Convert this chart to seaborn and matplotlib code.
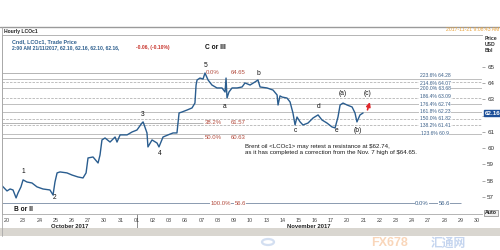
import numpy as np
import pandas as pd
import matplotlib
matplotlib.use("Agg")
import matplotlib.pyplot as plt
import seaborn as sns
from matplotlib.transforms import blended_transform_factory
from matplotlib.patches import Rectangle, Circle
from matplotlib.lines import Line2D

sns.set_theme(style="white")
plt.rcParams['font.family'] = ['Liberation Sans', 'DejaVu Sans', 'Noto Sans CJK SC']

# ---------------- data (trading-day index, price USD/bbl) ----------------
t_days = [-0.30, 0.00, 0.19, 0.37, 0.56, 0.68, 0.86, 0.99, 1.23, 1.54, 1.85, 2.22, 2.65, 2.84,
          2.96, 3.09, 3.27, 3.70, 4.01, 4.38, 4.69, 4.88, 5.00, 5.31, 5.62, 5.74, 5.86, 6.05,
          6.36, 6.67, 6.79, 6.98, 7.41, 7.72, 8.02, 8.33, 8.40, 8.64, 8.70, 8.95, 9.26, 9.38,
          9.63, 9.94, 10.25, 10.49, 10.62, 10.80, 11.11, 11.42, 11.60, 11.67, 11.73, 11.91,
          12.10, 12.22, 12.41, 12.65, 12.96, 13.27, 13.46, 13.52, 13.58, 13.70, 13.89, 14.20,
          14.51, 14.69, 15.00, 15.31, 15.49, 15.62, 16.05, 16.42, 16.67, 16.73, 16.85, 16.98,
          17.28, 17.47, 17.65, 17.78, 17.90, 18.09, 18.27, 18.58, 18.89, 19.20, 19.44, 19.75,
          20.06, 20.25, 20.43, 20.56, 20.74, 20.99, 21.30, 21.48, 21.60, 21.79, 21.98]
price = [57.68, 57.37, 57.49, 57.43, 56.94, 57.25, 57.62, 58.05, 57.92, 57.86, 57.62, 57.49,
         57.43, 57.12, 57.92, 58.48, 58.54, 58.48, 58.35, 58.23, 58.17, 58.48, 59.40, 59.46,
         59.09, 59.58, 60.51, 60.63, 60.38, 60.69, 60.38, 60.82, 60.82, 61.00, 61.12, 61.55,
         61.62, 60.94, 60.08, 60.51, 60.32, 60.08, 60.69, 60.82, 60.94, 60.94, 62.17, 62.23,
         62.35, 62.48, 62.78, 63.89, 64.20, 64.32, 64.26, 64.63, 64.20, 63.89, 63.71, 63.71,
         63.46, 64.32, 63.09, 63.46, 63.71, 63.71, 63.77, 64.02, 63.89, 64.08, 64.20, 63.77,
         63.71, 63.58, 63.28, 62.66, 63.22, 63.15, 63.09, 62.85, 62.17, 61.43, 61.92, 61.62,
         61.43, 61.55, 61.86, 62.05, 61.74, 61.55, 61.31, 61.25, 61.92, 62.66, 62.78, 62.66,
         62.54, 62.17, 61.62, 62.05, 62.17]

date_labels = ['20', '23', '24', '25', '26', '27', '30', '31', '01', '02', '03', '06', '07',
               '08', '09', '10', '13', '14', '15', '16', '17', '20', '21', '22', '23', '24',
               '27', '28', '29', '30']
month_labels = ['October 2017', 'November 2017']
price_ticks = [57, 58, 59, 60, 61, 62, 63, 64, 65]

right_fib_pct = ['223.6%', '214.6%', '200.0%', '186.4%', '176.4%', '161.8%', '150.0%',
                 '138.2%', '123.6%']
right_fib_val = [64.28, 64.07, 63.68, 63.09, 62.74, 62.23, 61.82, 61.41, 60.9]
left_fib_pct = ['0.0%', '38.2%', '50.0%']
left_fib_val = [64.65, 61.57, 60.63]
base_fib_val = 56.6

wave_labels = ['1', '2', '3', '4', '5', 'a', 'b', 'c', 'd', 'e', '(a)', '(b)', '(c)',
               'C or III', 'B or II']
wave_t = [0.99, 2.96, 8.40, 9.44, 12.28, 13.40, 15.49, 17.78, 19.26, 20.37, 20.74, 21.67,
          22.28, 12.84, 0.99]
wave_p = [58.54, 56.94, 62.05, 59.65, 65.12, 62.54, 64.57, 61.06, 62.54, 61.06, 63.34, 61.06,
          63.34, 66.17, 56.20]

last_price = 62.16

df = pd.DataFrame({'t': t_days, 'price': price})

# ---------------- figure ----------------
W, H = 500, 250
fig = plt.figure(figsize=(5, 2.5), dpi=100)
fig.patch.set_facecolor('white')

def fx(px):
    return px / W

def fy(py):
    return 1 - py / H

ax_l, ax_r, ax_t, ax_b = 2, 482, 35, 214
ax = fig.add_axes([fx(ax_l), fy(ax_b), (ax_r - ax_l) / W, (ax_b - ax_t) / H])
ax.set_facecolor('white')
ax.set_xlim(-0.31, 29.32)
ax.set_ylim(55.95, 66.97)

blue_txt = '#3a5f88'
red_txt = '#b24a3c'
grid_c = '#b4b4b4'

# right fibonacci lines (labels nudged apart where levels are very close)
label_nudge = [2.2, -1.0, 0, 0.8, -0.8, 0, 0, 0, 0]
for i, (pc, v) in enumerate(zip(right_fib_pct, right_fib_val)):
    ls = (0, (3, 1.5)) if i in (1, 3, 6, 7) else '-'
    ax.hlines(v, -0.31, 29.32, color=grid_c, lw=0.6, linestyle=ls, zorder=1)
    ax.annotate(f'{pc} {v:g}', xy=(26.42, v), xytext=(0, label_nudge[i]),
                textcoords='offset points', fontsize=3.6, color=blue_txt, ha='center',
                va='center', zorder=3, bbox=dict(facecolor='white', edgecolor='none', pad=0.2))

# left fibonacci lines
for pc, v in zip(left_fib_pct, left_fib_val):
    ax.hlines(v, -0.31, 12.1, color=grid_c, lw=0.7, zorder=1)
    ax.text(12.72, v, pc, fontsize=4.3, color=red_txt, ha='center', va='center', zorder=3)
    ax.text(14.26, v, f'{v:.2f}', fontsize=4.3, color=red_txt, ha='center', va='center', zorder=3)

# base line 56.6
ax.hlines(base_fib_val, -0.31, 28.0, color='#8a9ab0', lw=0.7, zorder=1)
ax.text(13.2, base_fib_val, '100.0%', fontsize=4.3, color=red_txt, ha='center', va='center',
        zorder=3, bbox=dict(facecolor='white', edgecolor='none', pad=0.2))
ax.text(14.4, base_fib_val, '56.6', fontsize=4.3, color=red_txt, ha='center', va='center',
        zorder=3, bbox=dict(facecolor='white', edgecolor='none', pad=0.2))
ax.text(25.6, base_fib_val, '0.0%', fontsize=4.3, color=blue_txt, ha='center', va='center',
        zorder=3, bbox=dict(facecolor='white', edgecolor='none', pad=0.2))
ax.text(27.0, base_fib_val, '56.6', fontsize=4.3, color=blue_txt, ha='center', va='center',
        zorder=3, bbox=dict(facecolor='white', edgecolor='none', pad=0.2))

# price line
sns.lineplot(data=df, x='t', y='price', ax=ax, color='#2a5d8f', lw=1.0, sort=False,
             estimator=None, zorder=4)

# wave labels
for lab, t, p in zip(wave_labels, wave_t, wave_p):
    ax.text(t, p, lab, fontsize=4.8, color='#111111', ha='center', va='center', zorder=5,
            fontweight='bold' if lab in ('C or III', 'B or II') else 'normal')

# red arrow for (c)
ax.annotate('', xy=(22.45, 63.0), xytext=(22.2, 62.2),
            arrowprops=dict(arrowstyle='-|>', color='#e0262a', lw=1.2, mutation_scale=6), zorder=6)

# annotation text
ax.text(14.7, 60.27,
        'Brent oil <LCOc1> may retest a resistance at $62.74,\n'
        'as it has completed a correction from the Nov. 7 high of $64.65.',
        fontsize=4.4, color='#1a1a1a', ha='left', va='top', linespacing=1.2, zorder=5)

# axes styling
ax.set_xlabel('')
ax.set_ylabel('')
for s in ['left', 'top', 'bottom']:
    ax.spines[s].set_color('#a8a8a8')
    ax.spines[s].set_linewidth(0.6)
ax.spines['right'].set_visible(False)
ax.set_xticks([])
ax.yaxis.tick_right()
ax.set_yticks(price_ticks)
# the 62 label sits under the last-price tag, as in the reference
ax.set_yticklabels(['' if v == 62 else str(v) for v in price_ticks])
ax.tick_params(axis='y', length=2.5, width=0.5, color='#888888', pad=1.2, labelsize=4.5,
               labelcolor='#333333', right=True, left=False)

# last price tag
ax.annotate(f'{last_price:.2f}', xy=(1.0, last_price), xycoords=('axes fraction', 'data'),
            xytext=(2.2, 0), textcoords='offset points', fontsize=4.5, color='white',
            ha='left', va='center', fontweight='bold', zorder=7,
            bbox=dict(facecolor='#1d4f98', edgecolor='#1d4f98', pad=0.6), annotation_clip=False)

# date labels
bt = blended_transform_factory(ax.transData, ax.transAxes)
ah = ax_b - ax_t
for i, lab in enumerate(date_labels):
    ax.text(i, -6 / ah, lab, transform=bt, fontsize=3.9, color='#444444', ha='center',
            va='center', clip_on=False)
ax.text(3.89, -12 / ah, month_labels[0], transform=bt, fontsize=4.2, color='#222222',
        ha='center', va='center', fontweight='bold', clip_on=False)
ax.text(18.64, -12 / ah, month_labels[1], transform=bt, fontsize=4.2, color='#222222',
        ha='center', va='center', fontweight='bold', clip_on=False)
ax.plot([8.02, 8.02], [0, -14 / ah], transform=bt, color='#777777', lw=0.6, clip_on=False)

# ---------------- chrome around the chart ----------------
fig.add_artist(Line2D([0, 1], [fy(27), fy(27)], color='#9a9a9a', lw=1.0))
fig.add_artist(Line2D([fx(2), fx(2)], [fy(27), fy(236)], color='#a8a8a8', lw=0.6))
fig.add_artist(Rectangle((0, fy(236)), 1, 8 / H, facecolor='#d9d6d0', edgecolor='none'))
fig.text(fx(4), fy(31), 'Hourly LCOc1', fontsize=3.6, fontweight='bold', color='#222222',
         ha='left', va='center')
fig.text(fx(12.5), fy(41.5), 'Cndl, LCOc1, Trade Price', fontsize=3.9, fontweight='bold',
         color='#2d5f8e', ha='left', va='center')
fig.text(fx(12.5), fy(47.5), '2:00 AM 21/11/2017, 62.10, 62.16, 62.10, 62.16,', fontsize=3.6,
         fontweight='bold', color='#2d5f8e', ha='left', va='center')
fig.text(fx(136), fy(47.5), '-0.06, (-0.10%)', fontsize=3.6, fontweight='bold',
         color='#c8342c', ha='left', va='center')
fig.text(fx(499), fy(29.5), '2017-11-21 9:08:43 AM', fontsize=3.7, color='#e9a23b',
         ha='right', va='center')
for txt, yy in [('Price', 38.5), ('USD', 44.5), ('Bbl', 50.5)]:
    fig.text(fx(485), fy(yy), txt, fontsize=3.7, fontweight='bold', color='#333333',
             ha='left', va='center')
fig.text(fx(491), fy(213), 'Auto', fontsize=3.8, fontweight='bold', color='#222222',
         ha='center', va='center',
         bbox=dict(facecolor='#f0f0f0', edgecolor='#666666', lw=0.4, pad=0.6))

# watermark (kept in the bottom strip, clear of the axis labels)
fig.add_artist(Circle((fx(268), fy(242)), 6 / W, transform=fig.transFigure, fill=False,
                      edgecolor='#9fb8e0', lw=1.6, alpha=0.45))
fig.text(fx(390), fy(243), 'FX678', fontsize=9, fontweight='bold', color='#f2a566',
         alpha=0.45, ha='center', va='center')
fig.text(fx(448), fy(243), '汇通网', fontsize=8.5, fontweight='bold', color='#7fa3dc',
         alpha=0.45, ha='center', va='center', family=['Noto Sans CJK SC', 'DejaVu Sans'])

fig.savefig('out.png', dpi=100)
